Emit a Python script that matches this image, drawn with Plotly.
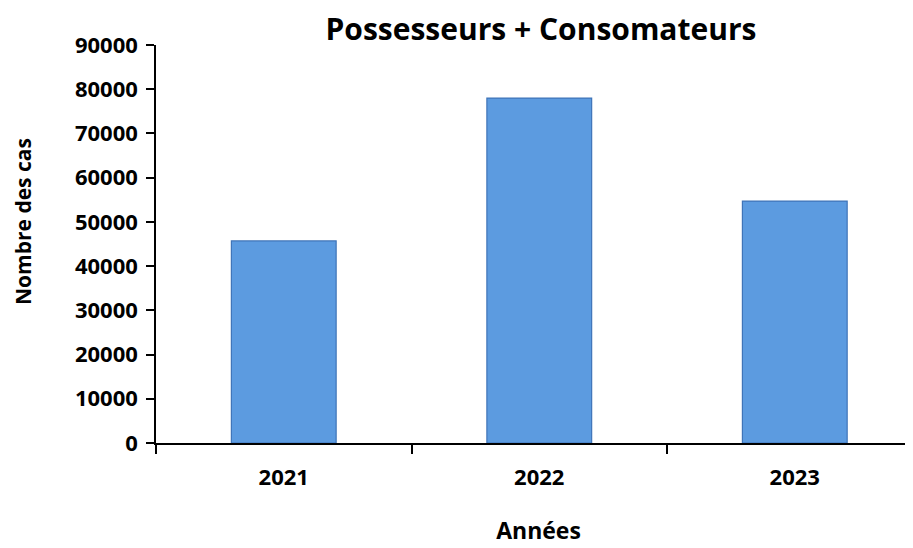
import plotly.graph_objects as go

annees = ["2021", "2022", "2023"]
nombre_cas = [45700, 78000, 54700]

font_fam = "'Open Sans', sans-serif"

# the page body adds an 8px offset, so margins are shifted to compensate
fig = go.Figure()
fig.add_trace(go.Bar(
    x=annees, y=nombre_cas, width=0.41,
    marker=dict(color="#5C9BE0", line=dict(color="#3F74B8", width=1.2)),
))

fig.update_layout(
    width=913, height=548,
    margin=dict(l=148, r=0, t=37, b=113),
    plot_bgcolor="white", paper_bgcolor="white",
    showlegend=False,
    font=dict(family=font_fam, color="black", size=15),
    title=dict(text="<b>Possesseurs + Consomateurs</b>", x=533 / 913, xanchor="center",
               y=1 - 21 / 548, yanchor="middle", yref="container",
               font=dict(size=30, family=font_fam, color="black")),
)
fig.update_xaxes(
    range=[-0.5, 2.494],
    showline=True, linecolor="black", linewidth=1.5,
    ticks="outside", ticklen=9, tickcolor="black", tickwidth=1.5,
    tickson="boundaries", ticklabelstandoff=14, automargin=False,
    tickfont=dict(size=22, family=font_fam, color="black", weight="bold"),
    title=dict(text="<b>Années</b>", standoff=33, font=dict(size=23)),
)
fig.update_yaxes(
    range=[0, 90000], dtick=10000, tickformat="d", showgrid=False, zeroline=False,
    showline=True, linecolor="black", linewidth=1.5,
    ticks="outside", ticklen=8, tickcolor="black", tickwidth=1.5,
    ticklabelstandoff=4, automargin=False,
    tickfont=dict(size=22, family=font_fam, color="black", weight="bold"),
)
# y axis title sits a bit above the plot centre, as in the original
fig.add_annotation(
    text="<b>Nombre des cas</b>", textangle=-90, showarrow=False,
    xref="paper", yref="paper", x=-133 / 765, y=(435 - 214) / 398,
    xanchor="center", yanchor="middle",
    font=dict(size=21, family=font_fam, color="black"),
)

fig.write_html("out.html")
